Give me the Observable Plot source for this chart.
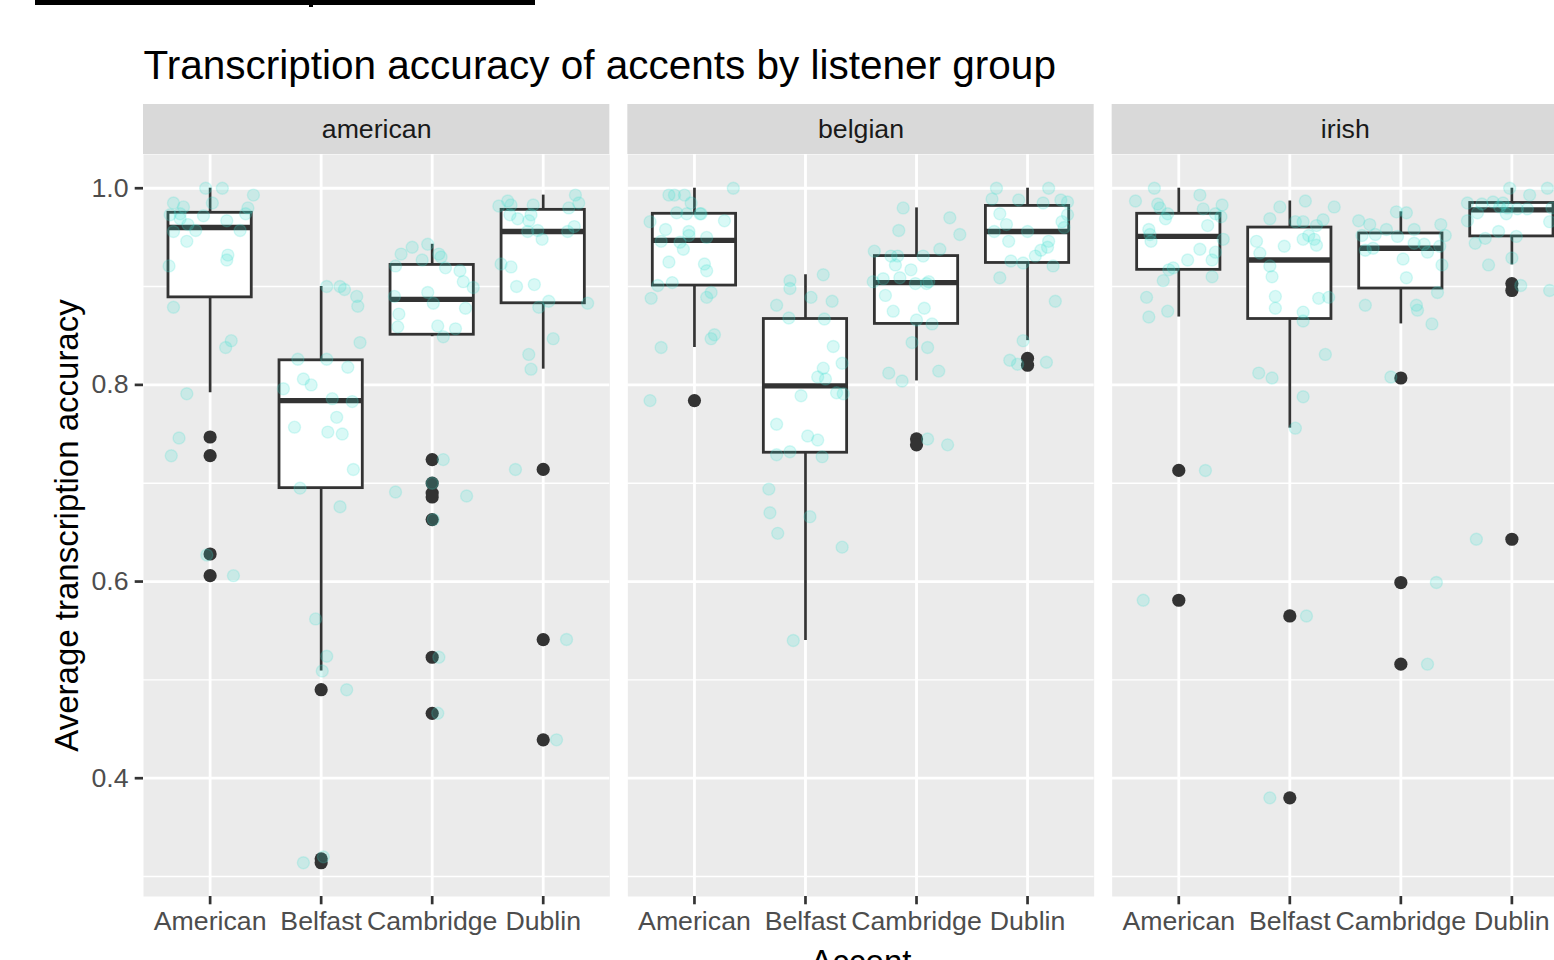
<!DOCTYPE html>
<html>
<head>
<meta charset="utf-8">
<script src="https://cdn.jsdelivr.net/npm/d3@7"></script>
<script src="https://cdn.jsdelivr.net/npm/@observablehq/plot@0.6"></script>
<style>
html, body { margin: 0; padding: 0; background: #ffffff; overflow: hidden; }
#wrap { position: relative; width: 1554px; height: 960px; overflow: hidden; background: #ffffff; }
#wrap svg { position: absolute; left: 0; top: 0; max-width: none !important; z-index: 1; }
#bar { position: absolute; left: 35px; top: 0; width: 500px; height: 5px; background: #000; z-index: 2; }
#bar2 { position: absolute; left: 309px; top: 0; width: 4px; height: 7px; background: #000; z-index: 2; }
</style>
</head>
<body>
<div id="wrap"><div id="bar"></div><div id="bar2"></div></div>
<script>
const listeners = ["american", "belgian", "irish"];
const accents = ["American", "Belfast", "Cambridge", "Dublin"];
const yBreaks = [0.4, 0.6, 0.8, 1.0];
const yMinorBreaks = [0.3, 0.5, 0.7, 0.9];
const yDomain = [0.2797, 1.0343];

// order: american(American, Belfast, Cambridge, Dublin), belgian(...), irish(...)
const whiskerLow    = [0.792, 0.509, 0.849, 0.816, 0.838, 0.540, 0.804, 0.845, 0.869, 0.756, 0.862, 0.922];
const lowerQuartile = [0.889, 0.695, 0.851, 0.883, 0.901, 0.731, 0.862, 0.924, 0.917, 0.867, 0.898, 0.951];
const medians       = [0.960, 0.784, 0.887, 0.956, 0.947, 0.799, 0.904, 0.956, 0.951, 0.927, 0.939, 0.978];
const upperQuartile = [0.975, 0.825, 0.922, 0.978, 0.974, 0.867, 0.931, 0.982, 0.974, 0.960, 0.954, 0.985];
const whiskerHigh   = [1.000, 0.900, 0.943, 0.993, 1.000, 0.912, 0.980, 1.000, 1.000, 0.987, 0.976, 1.000];

const outlierValues = [
  [0.747, 0.728, 0.628, 0.606],
  [0.490, 0.318, 0.314],
  [0.724, 0.700, 0.690, 0.686, 0.663, 0.523, 0.466],
  [0.714, 0.541, 0.439],
  [0.784],
  [],
  [0.745, 0.739],
  [0.827, 0.820],
  [0.713, 0.581],
  [0.565, 0.380],
  [0.807, 0.599, 0.516],
  [0.903, 0.896, 0.643]
];

const pointValues = [
  [1.0, 1.0, 0.993, 0.985, 0.985, 0.981, 0.980, 0.973, 0.974, 0.972, 0.974, 0.969, 0.967, 0.963, 0.956, 0.957, 0.957, 0.946, 0.932, 0.927, 0.921, 0.879, 0.845, 0.838, 0.791, 0.746, 0.728, 0.627, 0.606],
  [0.900, 0.900, 0.897, 0.890, 0.880, 0.843, 0.826, 0.826, 0.818, 0.806, 0.800, 0.796, 0.786, 0.783, 0.767, 0.757, 0.752, 0.750, 0.714, 0.695, 0.676, 0.562, 0.524, 0.509, 0.490, 0.314, 0.320],
  [0.933, 0.940, 0.943, 0.933, 0.927, 0.930, 0.919, 0.921, 0.916, 0.905, 0.899, 0.890, 0.894, 0.883, 0.872, 0.878, 0.859, 0.860, 0.857, 0.849, 0.724, 0.700, 0.691, 0.687, 0.663, 0.523, 0.466],
  [0.982, 0.987, 0.983, 0.983, 0.993, 0.985, 0.980, 0.973, 0.969, 0.967, 0.973, 0.956, 0.957, 0.948, 0.956, 0.961, 0.923, 0.920, 0.900, 0.902, 0.885, 0.879, 0.883, 0.847, 0.831, 0.816, 0.714, 0.541, 0.439],
  [0.993, 0.993, 0.993, 1.0, 0.985, 0.975, 0.974, 0.974, 0.974, 0.966, 0.967, 0.958, 0.956, 0.952, 0.950, 0.946, 0.945, 0.938, 0.925, 0.923, 0.916, 0.901, 0.904, 0.888, 0.889, 0.894, 0.847, 0.851, 0.838, 0.784],
  [0.906, 0.898, 0.912, 0.889, 0.881, 0.885, 0.868, 0.867, 0.839, 0.822, 0.817, 0.808, 0.806, 0.792, 0.791, 0.789, 0.760, 0.748, 0.744, 0.729, 0.732, 0.727, 0.694, 0.670, 0.666, 0.649, 0.635, 0.540],
  [0.980, 0.970, 0.957, 0.953, 0.936, 0.931, 0.931, 0.931, 0.938, 0.922, 0.917, 0.909, 0.908, 0.905, 0.903, 0.903, 0.905, 0.891, 0.878, 0.875, 0.866, 0.862, 0.843, 0.838, 0.812, 0.804, 0.814, 0.745, 0.739],
  [1.0, 1.0, 0.989, 0.988, 0.985, 0.988, 0.986, 0.974, 0.973, 0.963, 0.956, 0.956, 0.966, 0.960, 0.946, 0.946, 0.940, 0.937, 0.931, 0.926, 0.924, 0.921, 0.909, 0.885, 0.845, 0.825, 0.821, 0.823],
  [1.0, 0.987, 0.984, 0.980, 0.993, 0.974, 0.969, 0.979, 0.983, 0.974, 0.971, 0.962, 0.958, 0.953, 0.946, 0.948, 0.938, 0.935, 0.927, 0.927, 0.917, 0.919, 0.906, 0.910, 0.889, 0.875, 0.869, 0.713, 0.581],
  [0.981, 0.987, 0.981, 0.969, 0.966, 0.966, 0.968, 0.962, 0.946, 0.941, 0.948, 0.952, 0.948, 0.942, 0.934, 0.921, 0.910, 0.890, 0.888, 0.889, 0.878, 0.874, 0.865, 0.831, 0.812, 0.807, 0.788, 0.756, 0.565, 0.380],
  [0.967, 0.963, 0.976, 0.975, 0.958, 0.951, 0.958, 0.963, 0.952, 0.952, 0.953, 0.937, 0.939, 0.944, 0.943, 0.935, 0.941, 0.928, 0.922, 0.909, 0.894, 0.881, 0.881, 0.876, 0.862, 0.808, 0.599, 0.516],
  [1.0, 1.0, 0.993, 0.985, 0.984, 0.986, 0.985, 0.981, 0.980, 0.979, 0.979, 0.980, 0.975, 0.974, 0.967, 0.966, 0.956, 0.949, 0.951, 0.944, 0.929, 0.922, 0.901, 0.896, 0.643]
];

// horizontal jitter, in category units
const pointJitter = [
  [-0.04, 0.11, 0.39, 0.02, -0.33, -0.24, 0.34, -0.36, -0.27, -0.06, 0.32, -0.27, 0.15, -0.20, -0.33, -0.13, 0.27, -0.21, 0.16, 0.15, -0.37, -0.33, 0.19, 0.14, -0.21, -0.28, -0.35, -0.03, 0.21],
  [0.05, 0.17, 0.21, 0.32, 0.33, 0.35, -0.21, 0.05, 0.24, -0.16, -0.09, -0.34, 0.10, 0.28, 0.14, -0.24, 0.06, 0.19, 0.29, -0.19, 0.17, -0.05, 0.05, 0.01, 0.23, -0.16, 0.02],
  [-0.28, -0.18, -0.04, 0.06, -0.09, 0.08, 0.12, -0.33, 0.25, 0.28, 0.37, -0.34, -0.04, 0.01, -0.30, 0.30, -0.31, 0.05, 0.21, 0.10, 0.10, 0.00, -0.33, 0.31, 0.01, 0.06, 0.05],
  [-0.40, -0.32, -0.29, -0.09, 0.29, 0.32, 0.23, -0.30, -0.23, -0.13, -0.11, -0.14, -0.05, -0.01, 0.22, 0.28, -0.38, -0.29, -0.24, -0.08, 0.05, -0.04, 0.40, 0.09, -0.13, -0.11, -0.25, 0.21, 0.12],
  [-0.23, -0.18, -0.09, 0.35, -0.03, -0.16, -0.07, 0.05, 0.06, -0.40, 0.27, -0.26, -0.05, -0.05, 0.11, -0.30, -0.13, -0.10, -0.23, 0.09, 0.11, -0.33, -0.20, -0.39, 0.11, 0.15, 0.15, 0.18, -0.30, -0.40],
  [-0.14, -0.14, 0.16, 0.05, -0.26, 0.24, -0.15, 0.17, 0.25, 0.33, 0.16, 0.11, 0.18, 0.28, 0.34, -0.04, -0.26, 0.02, 0.11, -0.26, -0.14, 0.15, -0.33, -0.32, 0.04, -0.25, 0.33, -0.11],
  [-0.12, 0.30, -0.16, 0.39, -0.38, -0.23, -0.17, 0.06, 0.21, -0.19, -0.05, -0.15, -0.30, -0.39, -0.01, 0.09, 0.11, -0.28, 0.07, -0.21, 0.00, 0.14, -0.04, 0.10, -0.25, -0.13, 0.20, 0.10, 0.28],
  [-0.28, 0.19, -0.32, -0.08, 0.14, 0.30, 0.36, -0.25, 0.36, -0.19, -0.30, 0.00, 0.31, 0.33, -0.17, 0.19, 0.18, 0.12, 0.07, -0.15, -0.04, 0.23, -0.25, 0.25, -0.04, -0.16, -0.09, 0.17],
  [-0.22, -0.39, -0.19, -0.17, 0.19, -0.10, -0.12, 0.22, 0.39, 0.33, 0.38, 0.26, -0.27, -0.26, -0.25, 0.40, 0.19, 0.33, 0.08, 0.30, -0.09, -0.05, -0.14, 0.30, -0.29, -0.10, -0.27, 0.24, -0.32],
  [-0.09, 0.14, 0.40, -0.18, 0.05, 0.12, 0.30, 0.24, -0.30, -0.05, 0.12, 0.17, 0.22, 0.24, -0.27, -0.18, -0.16, -0.13, 0.26, 0.35, -0.13, 0.12, 0.12, 0.32, -0.28, -0.16, 0.12, 0.05, 0.15, -0.18],
  [-0.38, -0.28, -0.04, 0.05, -0.13, -0.03, 0.12, 0.36, 0.40, -0.35, -0.23, -0.32, -0.25, 0.12, 0.21, 0.24, 0.35, 0.02, 0.37, 0.05, 0.33, -0.32, 0.14, 0.15, 0.28, -0.09, 0.32, 0.24],
  [-0.02, 0.32, 0.16, -0.40, -0.27, -0.17, -0.08, -0.11, -0.04, 0.05, 0.14, 0.36, -0.31, -0.05, -0.40, 0.34, -0.12, -0.24, 0.04, -0.33, 0.00, -0.21, 0.08, 0.34, -0.32]
];

const titleText = "Transcription accuracy of accents by listener group";
const xTitle = "Accent";
const yTitle = "Average transcription accuracy";

// ---- build tables ----
const boxes = [], outliers = [], points = [];
listeners.forEach((listener, li) => {
  accents.forEach((accent, ai) => {
    const g = li * 4 + ai;
    const pos = ai + 1;
    boxes.push({listener, accent, pos, lo: whiskerLow[g], q1: lowerQuartile[g], med: medians[g], q3: upperQuartile[g], hi: whiskerHigh[g]});
    outlierValues[g].forEach(v => outliers.push({listener, accent, pos, value: v}));
    pointValues[g].forEach((v, k) => points.push({listener, accent, pos, value: v, jitter: pointJitter[g][k]}));
  });
});

const panelPx = 742; // panel height in px
const stripPx = 50;
const yStripTop = yDomain[1] + stripPx * (yDomain[1] - yDomain[0]) / panelPx;
const halfBox = 0.375;
const ink = "#333333";
const jitterColor = "#40E0D0";

const chart = Plot.plot({
  width: 1600,
  height: 1000,
  marginLeft: 143,
  marginRight: 22,
  marginTop: 154,
  marginBottom: 104,
  facet: {margin: 0},
  style: {fontFamily: "'Liberation Sans', Arial, Helvetica, sans-serif", fontSize: "26.7px", background: "#ffffff", overflow: "visible"},
  fx: {domain: listeners, paddingInner: 0.03716, paddingOuter: 0, round: false, axis: null, label: null},
  x: {type: "linear", domain: [0.4, 4.6]},
  y: {domain: yDomain},
  marks: [
    Plot.frame({fill: "#EBEBEB", stroke: null}),
    Plot.ruleY(yMinorBreaks, {stroke: "#ffffff", strokeWidth: 1.4}),
    Plot.ruleY(yBreaks, {stroke: "#ffffff", strokeWidth: 2.8}),
    Plot.ruleX([1, 2, 3, 4], {stroke: "#ffffff", strokeWidth: 2.8}),
    // strips
    Plot.rect(listeners, {fx: d => d, x1: 0.4, x2: 4.6, y1: yDomain[1], y2: yStripTop, fill: "#D9D9D9"}),
    Plot.text(listeners, {fx: d => d, text: d => d, frameAnchor: "top", dy: -stripPx / 2, lineAnchor: "middle", fill: "#1A1A1A", fontSize: 26.7}),
    // boxplots
    Plot.ruleX(boxes, {fx: "listener", x: "pos", y1: "lo", y2: "hi", stroke: ink, strokeWidth: 2.7}),
    Plot.rect(boxes, {fx: "listener", x1: d => d.pos - halfBox, x2: d => d.pos + halfBox, y1: "q1", y2: "q3", fill: "#ffffff", stroke: ink, strokeWidth: 2.8}),
    Plot.ruleY(boxes, {fx: "listener", x1: d => d.pos - halfBox, x2: d => d.pos + halfBox, y: "med", stroke: ink, strokeWidth: 5.4}),
    Plot.dot(outliers, {fx: "listener", x: "pos", y: "value", r: 6.6, fill: ink, stroke: null}),
    // jittered points
    Plot.dot(points, {fx: "listener", x: d => d.pos + d.jitter, y: "value", r: 6, fill: jitterColor, fillOpacity: 0.2, stroke: jitterColor, strokeOpacity: 0.2, strokeWidth: 1.4}),
    // axes
    Plot.axisY({ticks: yBreaks, tickFormat: d3.format(".1f"), tickSize: 8.3, tickPadding: 6.7, stroke: ink, strokeWidth: 2.7, fill: "#4D4D4D", fontSize: 26.7, label: null}),
    Plot.axisX({ticks: [1, 2, 3, 4], tickFormat: d => accents[d - 1], tickSize: 8.3, tickPadding: 6.7, stroke: ink, strokeWidth: 2.7, fill: "#4D4D4D", fontSize: 26.7, label: null}),
    // titles
    Plot.text([titleText], {fx: () => listeners[0], frameAnchor: "top-left", textAnchor: "start", lineAnchor: "bottom", dy: -76, fontSize: 40.5, fill: "#000000"}),
    Plot.text([yTitle], {fx: () => listeners[0], frameAnchor: "left", rotate: -90, textAnchor: "middle", lineAnchor: "bottom", dx: -66, fontSize: 33, fill: "#000000"}),
    Plot.text([xTitle], {fx: () => listeners[1], frameAnchor: "bottom", textAnchor: "middle", lineAnchor: "bottom", dy: 76, fontSize: 33, fill: "#000000"})
  ]
});
document.getElementById("wrap").appendChild(chart);
</script>
</body>
</html>
